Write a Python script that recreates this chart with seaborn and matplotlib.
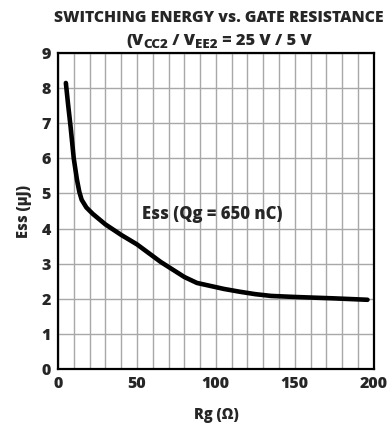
import matplotlib
matplotlib.use("Agg")
import matplotlib.pyplot as plt
import seaborn as sns
import pandas as pd
import numpy as np

rg = [5, 6.5, 8, 10, 12, 13.5, 15, 18, 22, 30, 40, 50, 65, 80, 88, 95, 105, 115, 125, 135, 150, 175, 196]
ess = [8.15, 7.5, 6.9, 6.0, 5.4, 5.05, 4.82, 4.6, 4.42, 4.12, 3.82, 3.55, 3.05, 2.62, 2.45, 2.38, 2.28, 2.2, 2.13, 2.08, 2.05, 2.01, 1.97]
x_ticks = [0, 50, 100, 150, 200]
y_ticks = [0, 1, 2, 3, 4, 5, 6, 7, 8, 9]

sns.set_theme(style="white")
plt.rcParams['font.family'] = ['Open Sans', 'DejaVu Sans']

df = pd.DataFrame({"Rg": rg, "Ess": ess})

fig = plt.figure(figsize=(3.89, 4.25), dpi=100)
ax = fig.add_axes([0.149, 0.132, 0.812, 0.743])

ax.set_xticks(np.arange(0, 201, 10), minor=True)
ax.set_xticks(x_ticks)
ax.set_yticks(y_ticks)
ax.grid(True, which="both", axis="x", color="#a8a8a8", linewidth=1.0)
ax.grid(True, which="major", axis="y", color="#a8a8a8", linewidth=1.0)
ax.set_axisbelow(True)

sns.lineplot(data=df, x="Rg", y="Ess", ax=ax, color="black", linewidth=3.3)

ax.set_xlim(0, 200)
ax.set_ylim(0, 9)
ax.tick_params(which="both", length=0, labelsize=11.5, pad=5)
for lab in ax.get_xticklabels() + ax.get_yticklabels():
    lab.set_fontweight("heavy")
for s in ax.spines.values():
    s.set_color("black")
    s.set_linewidth(1.6)

ax.set_xlabel("Rg (Ω)", fontsize=10.5, fontweight="heavy", labelpad=11)
ax.set_ylabel("Ess (µJ)", fontsize=10.5, fontweight="heavy", labelpad=7)

ax.text(98, 4.40, "Ess (Qg = 650 nC)", fontsize=12, fontweight="heavy",
        ha="center", va="center")

fig.text(0.562, 0.958, "SWITCHING ENERGY vs. GATE RESISTANCE", fontsize=11.3,
         fontweight="heavy", ha="center", va="center")

# second title line with subscripts, drawn piece by piece
fig.canvas.draw()
renderer = fig.canvas.get_renderer()
pieces = [("(V", 11.8, 0.0), ("CC2", 9.6, -2.5), (" / V", 11.8, 0.0),
          ("EE2", 9.6, -2.5), (" = 25 V / 5 V", 11.8, 0.0)]
objs = []
total = 0.0
for txt, size, dy in pieces:
    t = fig.text(0, 0, txt, fontsize=size, fontweight="heavy", ha="left", va="baseline")
    w = t.get_window_extent(renderer).width
    objs.append((t, w, dy))
    total += w
W, H = fig.bbox.width, fig.bbox.height
x0 = 219 - total / 2
base = H - 45
for t, w, dy in objs:
    t.set_position((x0 / W, (base + dy) / H))
    x0 += w

fig.savefig("out.png", dpi=100)
